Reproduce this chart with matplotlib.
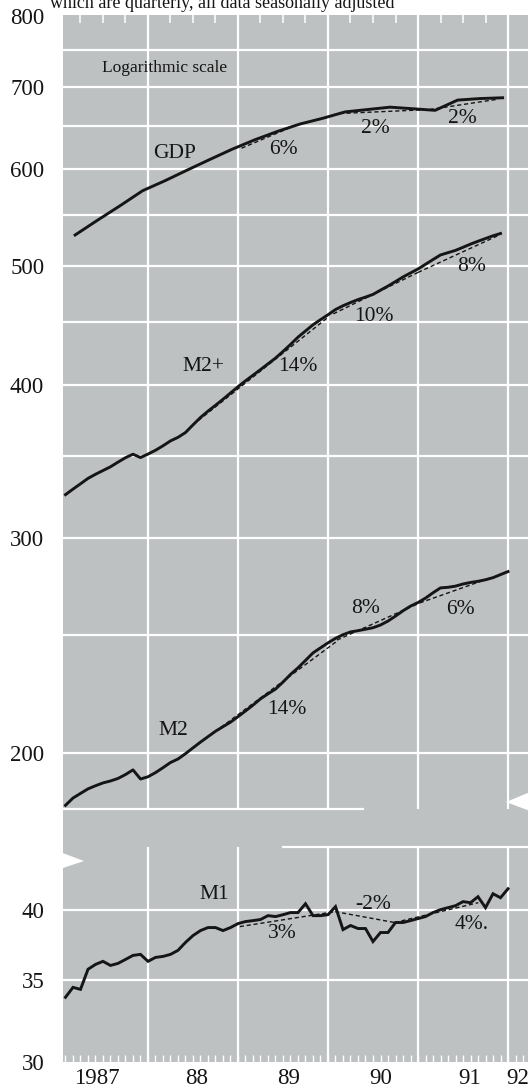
import numpy as np
import pandas as pd
import matplotlib
matplotlib.use("Agg")
import matplotlib.pyplot as plt
from matplotlib.patches import Polygon

# ---------------- data ----------------
months = pd.period_range("1987-01", "1991-12", freq="M")
months_m2plus = pd.period_range("1987-01", "1991-11", freq="M")
quarters = pd.period_range("1987Q1", "1991Q4", freq="Q")

gdp = [530, 545, 560, 576, 587, 599, 611, 623, 634, 644,
       653, 660, 668, 671, 674, 672, 670, 683, 685, 686]

m2plus = [325.3, 328.7, 332.0, 335.4, 338.0, 340.4, 342.8, 345.8, 348.7, 351.0,
          348.8, 351.1, 353.6, 356.6, 359.9, 362.3, 365.6, 370.9, 376.1, 380.6,
          384.8, 389.2, 393.8, 398.5, 402.9, 407.2, 411.5, 416.0, 420.5, 425.8,
          431.4, 437.4, 442.5, 447.7, 452.0, 456.2, 460.7, 464.0, 466.8, 469.4,
          471.6, 474.0, 477.8, 481.5, 485.6, 489.8, 493.5, 497.2, 501.6, 506.1,
          510.5, 512.7, 514.9, 517.9, 521.0, 523.8, 526.5, 529.2, 531.5]

m2 = [181.4, 183.9, 185.5, 187.1, 188.2, 189.2, 189.9, 190.8, 192.2, 193.9,
      190.6, 191.4, 192.9, 194.7, 196.6, 197.9, 199.9, 202.1, 204.3, 206.4,
      208.5, 210.3, 212.1, 214.3, 216.6, 219.0, 221.6, 223.7, 225.7, 228.7,
      232.0, 234.9, 238.2, 241.6, 243.9, 246.2, 248.3, 250.0, 251.3, 251.9,
      252.6, 253.3, 254.6, 256.5, 258.9, 261.5, 263.8, 265.6, 267.8, 270.5,
      273.0, 273.3, 273.9, 275.0, 275.8, 276.4, 277.2, 278.3, 279.9, 281.5]

m1 = [33.90, 34.54, 34.41, 35.74, 36.07, 36.28, 36.00, 36.14, 36.41, 36.69,
      36.76, 36.28, 36.55, 36.62, 36.76, 37.04, 37.60, 38.09, 38.45, 38.67,
      38.67, 38.45, 38.67, 38.96, 39.11, 39.18, 39.26, 39.55, 39.48, 39.62,
      39.78, 39.78, 40.45, 39.55, 39.55, 39.62, 40.23, 38.52, 38.82, 38.60,
      38.60, 37.66, 38.31, 38.31, 39.04, 39.04, 39.18, 39.33, 39.48, 39.78,
      40.00, 40.15, 40.30, 40.61, 40.53, 40.99, 40.15, 41.22, 40.91, 41.61]

# trend segments: (start date, start value, end date, end value)
gdp_trends = [(1989.04, 624, 1989.61, 650),
              (1990.13, 666, 1991.13, 671),
              (1991.13, 671, 1991.88, 684)]
m2plus_trends = [(1988.50, 371, 1990.00, 454),
                 (1990.06, 457, 1991.00, 494),
                 (1991.00, 494, 1991.88, 529)]
m2_trends = [(1988.50, 202, 1990.10, 247),
             (1990.10, 247.5, 1991.02, 265.4),
             (1991.02, 265.4, 1991.80, 278.1)]
m1_trends = [(1989.02, 38.74, 1990.08, 39.85),
             (1990.08, 39.85, 1990.74, 39.04),
             (1990.74, 39.04, 1991.67, 40.53)]

upper_ticks = [200, 300, 400, 500, 600, 700, 800]
lower_ticks = [30, 35, 40]
year_labels = ["1987", "88", "89", "90", "91", "92"]
year_label_pos = [1987.43, 1988.54, 1989.56, 1990.58, 1991.57, 1992.11]

# (date, value, text)
upper_labels = [(1988.30, 618, "GDP"), (1989.51, 623, "6%"), (1990.53, 648, "2%"),
                (1991.49, 660, "2%"), (1988.62, 413.6, "M2+"), (1989.66, 413.6, "14%"),
                (1990.51, 455, "10%"), (1991.59, 500, "8%"), (1988.28, 208.7, "M2"),
                (1989.54, 217.4, "14%"), (1990.42, 262.5, "8%"), (1991.47, 262, "6%")]
lower_labels = [(1988.74, 41.15, "M1"), (1989.49, 38.24, "3%"),
                (1990.50, 40.38, "-2%"), (1991.60, 38.89, "4%.")]

# ---------------- helpers ----------------
def month_pos(p):
    return p.year + p.month / 12.0

def quarter_pos(p):
    return p.year + (p.quarter - 1) / 4.0 + 0.19

t_m = np.array([month_pos(p) for p in months])
t_m2p = np.array([month_pos(p) for p in months_m2plus])
t_q = np.array([quarter_pos(p) for p in quarters])

SERIF = ["Liberation Serif", "DejaVu Serif"]
INK = "#151515"
PANEL = "#bdc1c1"

W, H = 530, 1088
fig = plt.figure(figsize=(W / 100, H / 100), dpi=100)

def fx(px):
    return px / W

def fy(py):
    return 1 - py / H

L, R = 63, 528
TOP, MID, BOT = 15, 822, 1062
XMIN, XMAX = 1987.0556, 1992.2222

ax_u = fig.add_axes([fx(L), fy(MID), (R - L) / W, (MID - TOP) / H])
ax_l = fig.add_axes([fx(L), fy(BOT), (R - L) / W, (BOT - MID) / H])

for ax in (ax_u, ax_l):
    ax.set_facecolor(PANEL)
    for s in ax.spines.values():
        s.set_visible(False)
    ax.set_yscale("log")
    ax.set_xlim(XMIN, XMAX)
    ax.minorticks_off()

ax_u.set_ylim(175.8, 801.5)
ax_l.set_ylim(30, 47.2)

GW = 1.6
# horizontal grid
for v in range(200, 800, 50):
    ax_u.axhline(v, color="white", lw=GW, zorder=1)
ax_u.axhline(180, xmin=0, xmax=0.645, color="white", lw=GW, zorder=1)
for v in (35, 40):
    ax_l.axhline(v, color="white", lw=GW, zorder=1)
ax_l.axhline(45, xmin=0.473, xmax=1, color="white", lw=GW, zorder=1)

# vertical grid
years = [1988, 1989, 1990, 1991, 1992]
ax_u.vlines(years, 180, 801.5, color="white", lw=GW, zorder=1)
ax_l.vlines(years, 30, 45, color="white", lw=GW, zorder=1)

# y ticks
ax_u.set_yticks(upper_ticks)
ax_u.set_yticklabels([str(v) for v in upper_ticks])
ax_l.set_yticks(lower_ticks)
ax_l.set_yticklabels([str(v) for v in lower_ticks])
for ax in (ax_u, ax_l):
    ax.tick_params(axis="y", length=0, pad=13.5, labelsize=16.5, labelcolor=INK)
    for lab in ax.get_yticklabels():
        lab.set_family(SERIF)

# x ticks: top quarterly marks (upper), bottom monthly marks (lower)
qt = [y + q / 4 for y in range(1987, 1993) for q in range(4)]
qt = [v for v in qt if XMIN < v < XMAX]
ax_u.set_xticks([])
ax_u.set_xticks(qt, minor=True)
ax_u.xaxis.set_ticks_position("top")
ax_u.tick_params(axis="x", which="minor", direction="in", length=6, width=1.1,
                 color="white", top=True, bottom=False)

mt = [y + m / 12 for y in range(1987, 1993) for m in range(12)]
mt = [v for v in mt if XMIN < v < XMAX]
ax_l.set_xticks(mt, minor=True)
ax_l.set_xticks(year_label_pos)
ax_l.set_xticklabels(year_labels)
ax_l.tick_params(axis="x", which="major", length=0, pad=4, labelsize=16.5,
                 labelcolor=INK)
ax_l.tick_params(axis="x", which="minor", direction="in", length=5, width=1.0,
                 color="white")
for lab in ax_l.get_xticklabels():
    lab.set_family(SERIF)

# series
LW = 2.1
ax_u.plot(t_q, gdp, color=INK, lw=LW, zorder=4, solid_joinstyle="round")
ax_u.plot(t_m2p, m2plus, color=INK, lw=LW, zorder=4, solid_joinstyle="round")
ax_u.plot(t_m, m2, color=INK, lw=LW, zorder=4, solid_joinstyle="round")
ax_l.plot(t_m, m1, color=INK, lw=LW, zorder=4, solid_joinstyle="miter")

for ax, segs in ((ax_u, gdp_trends), (ax_u, m2plus_trends),
                 (ax_u, m2_trends), (ax_l, m1_trends)):
    for t0, v0, t1, v1 in segs:
        ax.plot([t0, t1], [v0, v1], color=INK, lw=1.0, ls=(0, (3, 2)), zorder=3)

# labels
ax_u.text(1987.49, 725.5, "Logarithmic scale", ha="left", va="center",
          fontsize=12.5, family=SERIF, color=INK)
for t, v, s in upper_labels:
    ax_u.text(t, v, s, ha="center", va="center", fontsize=15.5, family=SERIF,
              color=INK, zorder=5)
for t, v, s in lower_labels:
    ax_l.text(t, v, s, ha="center", va="center", fontsize=15.5, family=SERIF,
              color=INK, zorder=5)

# clipped headline at top of the page (cut off as in the source)
fig.text(fx(50), fy(8), "which are quarterly, all data seasonally adjusted",
         ha="left", va="baseline", fontsize=13, family=SERIF, color=INK)

# torn-edge marks of the scale break
def px_poly(pts):
    return Polygon([(fx(x), fy(y)) for x, y in pts], closed=True,
                   transform=fig.transFigure, facecolor="white",
                   edgecolor="none", zorder=10)

fig.patches.append(px_poly([(60, 852), (84, 861), (60, 869)]))
fig.patches.append(px_poly([(530, 792), (506, 802), (530, 811)]))

fig.savefig("out.png", dpi=100, facecolor="white")
